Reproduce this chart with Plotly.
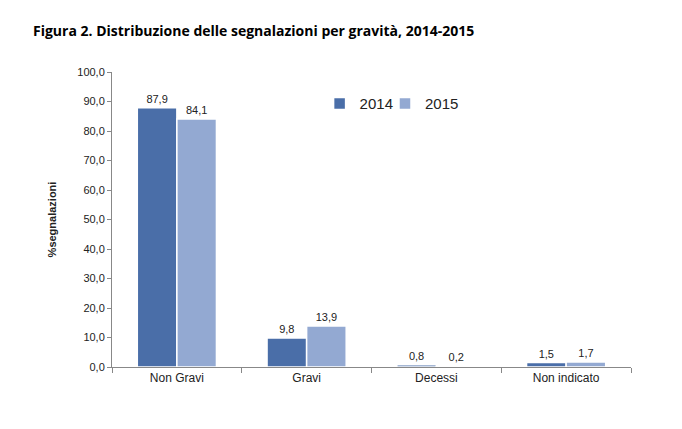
import plotly.graph_objects as go

categories = ["Non Gravi", "Gravi", "Decessi", "Non indicato"]
values_2014 = [87.9, 9.8, 0.8, 1.5]
values_2015 = [84.1, 13.9, 0.2, 1.7]
series_names = ["2014", "2015"]
colors = ["#4A6EA8", "#93A9D2"]
legend_ids = ["legend", "legend2"]

fig = go.Figure()
for name, vals, col, lg in zip(series_names, [values_2014, values_2015], colors, legend_ids):
    fig.add_trace(go.Bar(
        x=categories, y=vals, name=name, legend=lg,
        marker=dict(color=col, line=dict(color="white", width=1.5)),
        texttemplate="%{y:.1f}", textposition="outside",
        textfont=dict(family="Liberation Sans, Arial", size=11, color="#222"),
        cliponaxis=False,
    ))

legend_style = dict(orientation="h", y=0.892, xanchor="left", yanchor="middle",
                    font=dict(family="Liberation Sans, Arial", size=15, color="#222"),
                    itemwidth=30, bgcolor="rgba(0,0,0,0)")

fig.update_layout(
    width=682, height=429,
    paper_bgcolor="white", plot_bgcolor="white",
    separators=",.",
    barmode="group", bargap=0.39, bargroupgap=0.0,
    margin=dict(l=104, r=59, t=64, b=70),
    title=dict(text="<b>Figura 2. Distribuzione delle segnalazioni per gravità, 2014-2015</b>",
               x=25/682, xanchor="left", y=1-23/429, yanchor="middle",
               font=dict(family="Open Sans, Liberation Sans", size=14, color="black")),
    legend=dict(x=0.400, **legend_style),
    legend2=dict(x=0.526, **legend_style),
    font=dict(family="Liberation Sans, Arial", size=11, color="#222"),
    showlegend=True,
)
fig.update_xaxes(type="category", tickson="boundaries", ticks="outside", ticklen=5,
                 tickcolor="#888", showline=True, linecolor="#888", linewidth=1,
                 tickfont=dict(size=12, color="#222"), showgrid=False)
fig.update_yaxes(range=[0, 100], dtick=10, tickformat=".1f", ticks="outside", ticklen=4,
                 tickcolor="#888", showline=True, linecolor="#888", linewidth=1,
                 showgrid=False, zeroline=False,
                 tickfont=dict(size=11, color="#222"),
                 title=dict(text="<b>%segnalazioni</b>", font=dict(size=11, color="#222"), standoff=18))

fig.write_html("out.html")
